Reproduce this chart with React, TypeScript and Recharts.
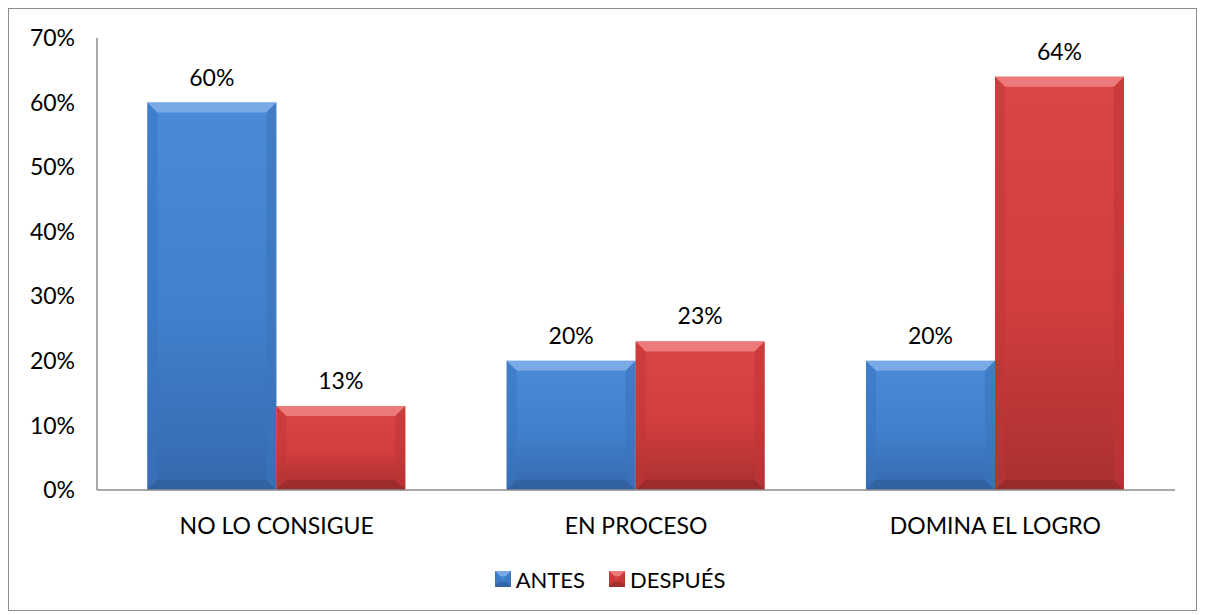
import React from 'react';
import { BarChart, Bar, XAxis, YAxis, LabelList, Legend } from 'recharts';

const categories = ['NO LO CONSIGUE', 'EN PROCESO', 'DOMINA EL LOGRO'];
const antes = [60, 20, 20];
const despues = [13, 23, 64];
const yTicks = [0, 10, 20, 30, 40, 50, 60, 70];

const data = categories.map((name, i) => ({ name, antes: antes[i], despues: despues[i] }));

const FONT = 'Lato, "Open Sans", sans-serif';
const FS = 23;

const palettes: Record<string, { light: string; mid: string; dark: string; top: string; side: string; bottom: string }> = {
  antes: { light: '#4a8ad6', mid: '#4080cc', dark: '#3669ad', top: '#7aaae6', side: '#3a74bd', bottom: '#2f5c98' },
  despues: { light: '#dc4545', mid: '#d23d3d', dark: '#a83030', top: '#ec7a7a', side: '#c03636', bottom: '#922828' },
};

const BevelBar = (props: any) => {
  const { x, y, width, height, dataKey } = props;
  if (!height || height <= 0) return null;
  const p = palettes[dataKey];
  const b = Math.min(10, height / 3);
  const id = `g-${dataKey}`;
  return (
    <g>
      <defs>
        <linearGradient id={id} x1="0" y1="0" x2="0" y2="1">
          <stop offset="0%" stopColor={p.light} />
          <stop offset="55%" stopColor={p.mid} />
          <stop offset="100%" stopColor={p.dark} />
        </linearGradient>
      </defs>
      <rect x={x} y={y} width={width} height={height} fill={`url(#${id})`} />
      <polygon points={`${x},${y} ${x + width},${y} ${x + width - b},${y + b} ${x + b},${y + b}`} fill={p.top} />
      <polygon points={`${x},${y} ${x + b},${y + b} ${x + b},${y + height - b} ${x},${y + height}`} fill={p.side} opacity={0.5} />
      <polygon points={`${x + width},${y} ${x + width - b},${y + b} ${x + width - b},${y + height - b} ${x + width},${y + height}`} fill={p.side} opacity={0.6} />
      <polygon points={`${x},${y + height} ${x + b},${y + height - b} ${x + width - b},${y + height - b} ${x + width},${y + height}`} fill={p.bottom} opacity={0.6} />
    </g>
  );
};

const LegendContent = () => (
  <div style={{ display: 'flex', justifyContent: 'center', alignItems: 'center', fontFamily: FONT, fontSize: FS - 1, color: '#000', height: 26, paddingLeft: 36 }}>
    {[
      { key: 'antes', label: 'ANTES' },
      { key: 'despues', label: 'DESPUÉS' },
    ].map((it, i) => (
      <div key={it.key} style={{ display: 'flex', alignItems: 'center', marginLeft: i ? 24 : 0 }}>
        <svg width={16} height={18} style={{ marginRight: 5 }}>
          <BevelBar x={0} y={1} width={16} height={16} dataKey={it.key} />
        </svg>
        <span>{it.label}</span>
      </div>
    ))}
  </div>
);

export default function App() {
  return (
    <div style={{ width: 1187, height: 601, border: '1px solid #8c8c8c', background: '#fff' }}>
      <BarChart
        width={1187}
        height={601}
        data={data}
        margin={{ top: 29, right: 21, bottom: 24, left: 0 }}
        barCategoryGap="14%"
        barGap={0}
      >
        <XAxis
          dataKey="name"
          axisLine={{ stroke: '#8c8c8c', strokeWidth: 1.5 }}
          tickLine={false}
          tickMargin={22}
          height={70}
          tick={{ fill: '#000', fontSize: FS, fontFamily: FONT }}
        />
        <YAxis
          domain={[0, 70]}
          ticks={yTicks}
          interval={0}
          width={88}
          axisLine={{ stroke: '#8c8c8c', strokeWidth: 1.5 }}
          tickLine={false}
          tickMargin={16}
          tickFormatter={(v: number) => `${v}%`}
          tick={{ fill: '#000', fontSize: FS, fontFamily: FONT }}
        />
        <Legend content={<LegendContent />} verticalAlign="bottom" wrapperStyle={{ bottom: 18 }} />
        <Bar dataKey="antes" isAnimationActive={false} shape={<BevelBar />}>
          <LabelList dataKey="antes" position="top" offset={17} formatter={(v: number) => `${v}%`} style={{ fill: '#000', fontSize: FS, fontFamily: FONT }} />
        </Bar>
        <Bar dataKey="despues" isAnimationActive={false} shape={<BevelBar />}>
          <LabelList dataKey="despues" position="top" offset={17} formatter={(v: number) => `${v}%`} style={{ fill: '#000', fontSize: FS, fontFamily: FONT }} />
        </Bar>
      </BarChart>
    </div>
  );
}
